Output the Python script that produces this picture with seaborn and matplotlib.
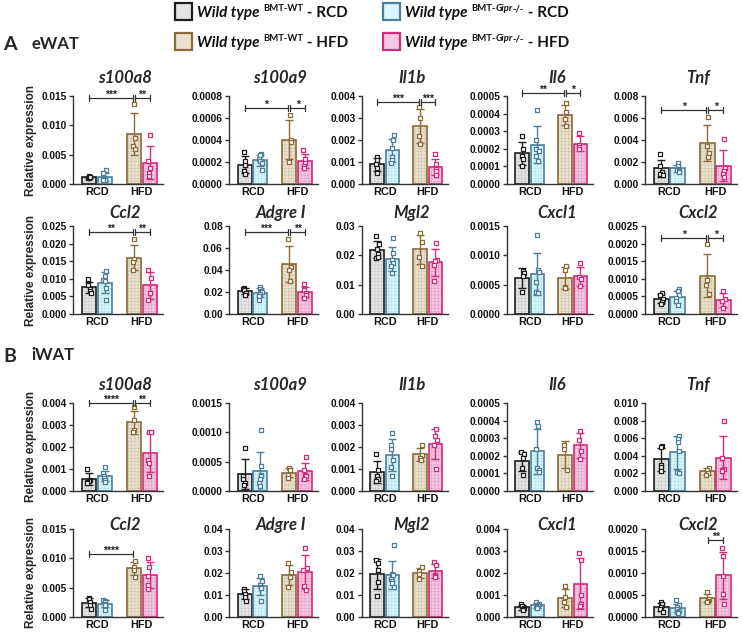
import numpy as np
import pandas as pd
import seaborn as sns
import matplotlib.pyplot as plt
from matplotlib.patches import Rectangle

# genes / panel order (left->right, top->bottom)
genes = ['s100a8', 's100a9', 'Il1b', 'Il6', 'Tnf', 'Ccl2', 'Adgre I', 'Mgl2', 'Cxcl1', 'Cxcl2']
diets = ['RCD', 'HFD']
genos = ['WT', 'Gipr']

ewat_ymax = [0.015, 0.0008, 0.004, 0.0005, 0.008, 0.025, 0.08, 0.03, 0.0015, 0.0025]
ewat_ystep = [0.005, 0.0002, 0.001, 0.0001, 0.002, 0.005, 0.02, 0.01, 0.0005, 0.0005]
ewat_ydec = [3, 4, 3, 4, 3, 3, 2, 2, 4, 4]
iwat_ymax = [0.004, 0.0015, 0.004, 0.0005, 0.010, 0.015, 0.04, 0.04, 0.004, 0.0020]
iwat_ystep = [0.001, 0.0005, 0.001, 0.0001, 0.002, 0.005, 0.01, 0.01, 0.001, 0.0005]
iwat_ydec = [3, 4, 3, 4, 3, 3, 2, 2, 3, 4]

# individual animals, one list per gene
ewat_wt_rcd = [
    [0.0013, 0.0012, 0.0011, 0.0010, 0.0012],
    [0.00029, 0.00021, 0.00017, 0.00012, 0.00009],
    [0.00125, 0.0011, 0.0009, 0.00075, 0.0005],
    [0.00027, 0.0002, 0.00016, 0.00014, 0.0001],
    [0.0027, 0.0016, 0.0011, 0.0009, 0.0008],
    [0.0099, 0.0083, 0.0072, 0.0066, 0.0060],
    [0.024, 0.023, 0.022, 0.019, 0.017],
    [0.0265, 0.024, 0.022, 0.0205, 0.019, 0.0195],
    [0.00073, 0.0007, 0.00065, 0.00037],
    [0.00059, 0.00055, 0.00042, 0.00035, 0.00028],
]
ewat_gipr_rcd = [
    [0.0024, 0.0018, 0.0010, 0.0008, 0.0007, 0.0006],
    [0.00027, 0.00026, 0.00023, 0.00021, 0.00019, 0.00013],
    [0.00223, 0.0020, 0.00163, 0.00125, 0.0011, 0.00095],
    [0.00042, 0.00025, 0.0002, 0.000185, 0.00016, 0.00013],
    [0.0019, 0.0016, 0.0014, 0.0013, 0.0012, 0.0011],
    [0.0122, 0.0107, 0.0097, 0.0095, 0.0075, 0.0040],
    [0.025, 0.023, 0.021, 0.020, 0.018, 0.016, 0.013],
    [0.026, 0.0207, 0.0184, 0.0173, 0.0162, 0.0139],
    [0.00135, 0.00075, 0.00071, 0.00055, 0.00038, 0.00036],
    [0.00071, 0.00064, 0.00055, 0.00045, 0.00036, 0.00026],
]
ewat_wt_hfd = [
    [0.0137, 0.0078, 0.0065, 0.0060],
    [0.00063, 0.00040, 0.00038, 0.00020],
    [0.0035, 0.0030, 0.0022, 0.0018],
    [0.00046, 0.00041, 0.00037, 0.00033],
    [0.0061, 0.0035, 0.0028, 0.0025],
    [0.0212, 0.0156, 0.0149, 0.0125],
    [0.068, 0.043, 0.040, 0.030],
    [0.0275, 0.0247, 0.0196, 0.0162],
    [0.00081, 0.00075, 0.00046, 0.00044],
    [0.00198, 0.00097, 0.00083, 0.00058],
]
ewat_gipr_hfd = [
    [0.0084, 0.0040, 0.0027, 0.0019, 0.0013],
    [0.00031, 0.00023, 0.00019, 0.00016, 0.00015],
    [0.00135, 0.0009, 0.0007, 0.0006, 0.0004],
    [0.00029, 0.00022, 0.00021, 0.0002],
    [0.0041, 0.0015, 0.0012, 0.0009, 0.0006],
    [0.0125, 0.0102, 0.0059, 0.0041],
    [0.027, 0.022, 0.019, 0.017, 0.015],
    [0.0241, 0.0185, 0.0179, 0.0168, 0.0111],
    [0.00087, 0.00063, 0.00059, 0.00047],
    [0.00064, 0.00042, 0.00036, 0.00017],
]
iwat_wt_rcd = [
    [0.00100, 0.00052, 0.00045, 0.0004, 0.00037],
    [0.00074, 0.00026, 0.0002, 0.00014, 0.00011],
    [0.0017, 0.00095, 0.0007, 0.00055, 0.00045],
    [0.00022, 0.00021, 0.00019, 0.00013, 0.00009],
    [0.0051, 0.0050, 0.0029, 0.0027, 0.0023],
    [0.0033, 0.0031, 0.0025, 0.0020, 0.0014],
    [0.0128, 0.012, 0.0105, 0.0090, 0.0072],
    [0.026, 0.0245, 0.0215, 0.016, 0.0095],
    [0.0006, 0.0005, 0.00042, 0.00035, 0.0003],
    [0.00035, 0.0003, 0.00022, 0.00018, 0.00012],
]
iwat_gipr_rcd = [
    [0.00108, 0.00082, 0.00068, 0.0006, 0.00052, 0.0004],
    [0.00104, 0.00042, 0.00028, 0.00025, 0.0002, 0.00014, 0.00008],
    [0.00265, 0.0021, 0.0019, 0.0014, 0.0011, 0.0007],
    [0.00039, 0.00037, 0.00024, 0.00013, 0.00012, 0.00011],
    [0.0062, 0.0059, 0.0056, 0.0045, 0.0022, 0.0020],
    [0.0029, 0.0027, 0.0025, 0.0023, 0.0021, 0.0012],
    [0.0185, 0.0165, 0.0145, 0.0135, 0.013, 0.0075],
    [0.0328, 0.0195, 0.019, 0.0175, 0.0165, 0.0155, 0.0135],
    [0.00068, 0.0006, 0.00055, 0.0005, 0.00045, 0.0004],
    [0.00038, 0.00028, 0.00022, 0.00018, 0.00014, 0.00012, 0.0001],
]
iwat_wt_hfd = [
    [0.00382, 0.00322, 0.00277, 0.0027],
    [0.00039, 0.00036, 0.00028, 0.00022],
    [0.0021, 0.00165, 0.0015, 0.00142],
    [0.00026, 0.00024, 0.00012],
    [0.0026, 0.0024, 0.0021, 0.0018],
    [0.0096, 0.0086, 0.0080, 0.0069],
    [0.0244, 0.0205, 0.018, 0.0135],
    [0.0228, 0.021, 0.0195, 0.0175],
    [0.00142, 0.0009, 0.00067, 0.00045],
    [0.00056, 0.00042, 0.00037, 0.00035],
]
iwat_gipr_hfd = [
    [0.0027, 0.00267, 0.00142, 0.00127, 0.00067],
    [0.00058, 0.00036, 0.00028, 0.00025, 0.0002],
    [0.0028, 0.0025, 0.0023, 0.0021, 0.0010],
    [0.00034, 0.00029, 0.00023, 0.00018],
    [0.0080, 0.0037, 0.0025, 0.0024, 0.0023],
    [0.0101, 0.0085, 0.0070, 0.0055, 0.0048],
    [0.0315, 0.0225, 0.0213, 0.0142, 0.0123],
    [0.0252, 0.0238, 0.019, 0.0185, 0.0183],
    [0.0029, 0.0026, 0.0010, 0.0006, 0.0005],
    [0.00157, 0.00139, 0.00094, 0.00052, 0.0003],
]

# significance brackets: (panel, group a, group b, height, label)
ewat_sig = [
    (0, 'WT-RCD', 'WT-HFD', 0.0147, '***'), (0, 'WT-HFD', 'Gipr-HFD', 0.0147, '**'),
    (1, 'WT-RCD', 'WT-HFD', 0.00069, '*'), (1, 'WT-HFD', 'Gipr-HFD', 0.00069, '*'),
    (2, 'WT-RCD', 'WT-HFD', 0.00374, '***'), (2, 'WT-HFD', 'Gipr-HFD', 0.00374, '***'),
    (3, 'WT-RCD', 'WT-HFD', 0.000517, '**'), (3, 'WT-HFD', 'Gipr-HFD', 0.000517, '*'),
    (4, 'WT-RCD', 'WT-HFD', 0.0067, '*'), (4, 'WT-HFD', 'Gipr-HFD', 0.0067, '*'),
    (5, 'WT-RCD', 'WT-HFD', 0.0232, '**'), (5, 'WT-HFD', 'Gipr-HFD', 0.0232, '**'),
    (6, 'WT-RCD', 'WT-HFD', 0.0748, '***'), (6, 'WT-HFD', 'Gipr-HFD', 0.0748, '**'),
    (9, 'WT-RCD', 'WT-HFD', 0.00215, '*'), (9, 'WT-HFD', 'Gipr-HFD', 0.00215, '*'),
]
iwat_sig = [
    (0, 'WT-RCD', 'WT-HFD', 0.00399, '****'), (0, 'WT-HFD', 'Gipr-HFD', 0.00399, '**'),
    (5, 'WT-RCD', 'WT-HFD', 0.0108, '****'),
    (9, 'WT-HFD', 'Gipr-HFD', 0.00175, '**'),
]

# colours: edge, fill, hatch
edge_col = {'WT-RCD': '#1e1e1e', 'Gipr-RCD': '#4f7f98', 'WT-HFD': '#8a6b3a', 'Gipr-HFD': '#d42a7e'}
fill_col = {'WT-RCD': '#e4e4e4', 'Gipr-RCD': '#d8f6fb', 'WT-HFD': '#e9e1d2', 'Gipr-HFD': '#f4c8e0'}
hatch_col = {'WT-RCD': '#c6c6c6', 'Gipr-RCD': '#aee0ea', 'WT-HFD': '#d0c1a5', 'Gipr-HFD': '#e69cc5'}

sns.set_style('ticks')
plt.rcParams['font.family'] = ['Liberation Sans', 'DejaVu Sans']
plt.rcParams['hatch.linewidth'] = 0.35
np.random.seed(3)

W, H = 743, 632
fig = plt.figure(figsize=(W / 100, H / 100), dpi=100)

col_x = [73, 229, 362, 507, 645]
col_w = [90, 89, 86, 86, 92]
row_y = [96, 226, 403, 529]
ax_h = 88
title_y = [78, 213, 385, 525]

ov = fig.add_axes([0, 0, 1, 1], zorder=10)
ov.set_xlim(0, W)
ov.set_ylim(H, 0)
ov.axis('off')


def draw_panel(ax, groups, ymax, ystep, ydec, sigs):
    rows = []
    for key, pts in groups.items():
        g, d = key.split('-')
        for v in pts:
            rows.append((d, g, v))
    df = pd.DataFrame(rows, columns=['diet', 'geno', 'value'])

    sns.barplot(data=df, x='diet', y='value', hue='geno', order=diets, hue_order=genos,
                errorbar=None, width=0.7, gap=0.1, legend=False, ax=ax)
    centers = {}
    for p in list(ax.patches):
        xc = p.get_x() + p.get_width() / 2
        d = diets[int(round(xc))]
        g = genos[0] if xc < round(xc) else genos[1]
        key = g + '-' + d
        centers[key] = xc
        p.set_facecolor(fill_col[key])
        p.set_edgecolor(hatch_col[key])
        p.set_hatch('+++++')
        p.set_linewidth(0)
        ax.add_patch(Rectangle(p.get_xy(), p.get_width(), p.get_height(), fill=False,
                               edgecolor=edge_col[key], linewidth=1.2, zorder=2))

    sns.stripplot(data=df, x='diet', y='value', hue='geno', order=diets, hue_order=genos,
                  dodge=True, jitter=0.08, marker='s', size=3.4, legend=False, ax=ax)
    for coll in ax.collections:
        off = coll.get_offsets()
        if len(off) == 0:
            continue
        xm = np.mean(off[:, 0])
        d = diets[int(round(xm))]
        g = genos[0] if xm < round(xm) else genos[1]
        key = g + '-' + d
        off[:, 0] += centers[key] - (round(xm) + (-0.2 if g == genos[0] else 0.2))
        coll.set_offsets(off)
        coll.set_facecolor('white')
        coll.set_edgecolor(edge_col[key])
        coll.set_linewidth(0.9)
        coll.set_zorder(4)

    stats = df.groupby(['geno', 'diet'])['value'].agg(['mean', 'std'])
    for key, xc in centers.items():
        g, d = key.split('-')
        m, s = stats.loc[(g, d)]
        ax.errorbar(xc, m, yerr=s, fmt='none', ecolor=edge_col[key], elinewidth=1.0,
                    capsize=2.6, capthick=1.0, zorder=3)

    tick = 3.0 / ax_h * ymax
    for a, b, y, lab in sigs:
        x1, x2 = centers[a], centers[b]
        if a == 'WT-RCD':
            x2 -= 0.025
        else:
            x1 += 0.025
        kw = dict(color='#333333', lw=0.9, clip_on=False, zorder=5)
        ax.plot([x1, x2], [y, y], **kw)
        ax.plot([x1, x1], [y - tick, y + tick], **kw)
        ax.plot([x2, x2], [y - tick, y + tick], **kw)
        ax.text((x1 + x2) / 2, y, lab, ha='center', va='baseline', fontsize=7.5,
                fontweight='bold', color='#222222')

    ax.set_xlim(-0.53, 1.47)
    ax.set_ylim(0, ymax)
    ticks = np.round(np.arange(0, ymax + ystep / 2, ystep), 6)
    ax.set_yticks(ticks)
    ax.set_yticklabels([f'{t:.{ydec}f}' for t in ticks])
    ax.set_xlabel('')
    ax.set_ylabel('')
    sns.despine(ax=ax)
    for s in ['left', 'bottom']:
        ax.spines[s].set_color('#333333')
        ax.spines[s].set_linewidth(1.0)
    ax.tick_params(axis='y', length=3, width=1, color='#333333', pad=1.5, labelsize=7.3)
    ax.tick_params(axis='x', length=0, pad=2.5, labelsize=7.8)
    for lab in ax.get_xticklabels() + ax.get_yticklabels():
        lab.set_fontweight('bold')
        lab.set_color('#111111')


tissues = [
    (ewat_wt_rcd, ewat_gipr_rcd, ewat_wt_hfd, ewat_gipr_hfd, ewat_ymax, ewat_ystep, ewat_ydec, ewat_sig),
    (iwat_wt_rcd, iwat_gipr_rcd, iwat_wt_hfd, iwat_gipr_hfd, iwat_ymax, iwat_ystep, iwat_ydec, iwat_sig),
]

for t, (a, b, c, d, ymax, ystep, ydec, sig) in enumerate(tissues):
    for i, gene in enumerate(genes):
        r = t * 2 + i // 5
        cidx = i % 5
        x0, w, y0 = col_x[cidx], col_w[cidx], row_y[r]
        ax = fig.add_axes([x0 / W, 1 - (y0 + ax_h) / H, w / W, ax_h / H])
        groups = {'WT-RCD': a[i], 'Gipr-RCD': b[i], 'WT-HFD': c[i], 'Gipr-HFD': d[i]}
        draw_panel(ax, groups, ymax[i], ystep[i], ydec[i], [s[1:] for s in sig if s[0] == i])
        ov.text(x0 + w / 2 + 7, title_y[r], gene, ha='center', va='center', fontsize=12,
                fontweight='bold', fontstyle='italic', family=['Lato', 'DejaVu Sans'])
        if cidx == 0:
            ov.text(31, y0 + ax_h / 2, 'Relative expression', rotation=90, ha='center',
                    va='center', fontsize=8.5, fontweight='bold')

# panel letters
for lab, name, y in [('A', 'eWAT', 45), ('B', 'iWAT', 356)]:
    ov.text(3, y, lab, ha='left', va='center', fontsize=14, fontweight='bold',
            family=['Lato', 'DejaVu Sans'])
    ov.text(31, y - 1, name, ha='left', va='center', fontsize=12, fontweight='bold',
            family=['Lato', 'DejaVu Sans'])


def rich(x, y, parts):
    prev = None
    for txt, size, style, dy in parts:
        kw = dict(fontsize=size, fontweight='bold', fontstyle=style, va='baseline',
                  ha='left', family=['Lato', 'DejaVu Sans'], color='#111111')
        if prev is None:
            prev = ov.text(x, y + dy, txt, **kw)
        else:
            prev = ov.annotate(txt, xy=(1, y + dy), xycoords=(prev, 'data'), **kw)


legend_items = [
    ('WT-RCD', 175, 3, [('BMT-WT', 'normal')], 'RCD'),
    ('Gipr-RCD', 383, 3, [('BMT-', 'normal'), ('Gipr', 'italic'), ('-/-', 'normal')], 'RCD'),
    ('WT-HFD', 175, 33, [('BMT-WT', 'normal')], 'HFD'),
    ('Gipr-HFD', 383, 33, [('BMT-', 'normal'), ('Gipr', 'italic'), ('-/-', 'normal')], 'HFD'),
]
for key, lx, ly, sup, diet in legend_items:
    ov.add_patch(Rectangle((lx, ly), 17, 17, facecolor=fill_col[key], edgecolor=edge_col[key],
                           linewidth=1.6))
    parts = [('Wild type ', 11, 'italic', 0)]
    parts += [(s, 6.8, st, -6) for s, st in sup]
    parts += [(' - ' + diet, 11, 'normal', 0)]
    rich(lx + 22, ly + 14, parts)

fig.savefig('out.png', dpi=100)
